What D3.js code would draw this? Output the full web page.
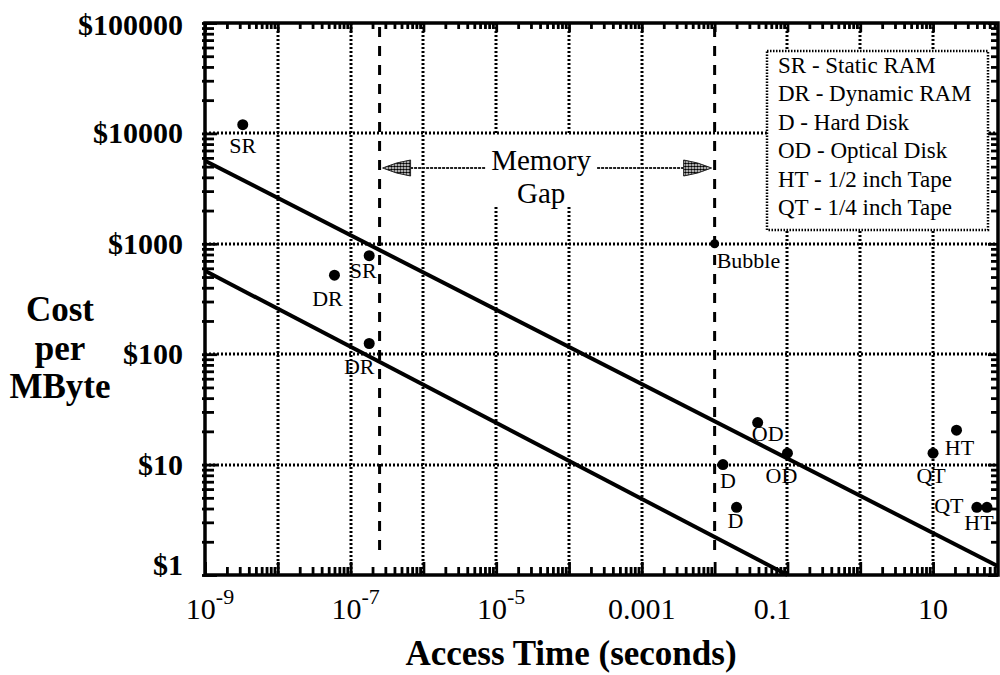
<!DOCTYPE html>
<html>
<head>
<meta charset="utf-8">
<script src="https://cdn.jsdelivr.net/npm/d3@7"></script>
<style>
  body { margin: 0; background: #fff; }
  svg { display: block; font-family: "Liberation Serif", "Times New Roman", serif; }
</style>
</head>
<body>
<svg id="chart" width="1000" height="675"></svg>
<script>
// axis extents (the plot is cut off a little before 100 s on the right)
const timeDomain = [1e-9, 78];
const costDomain = [1, 1e5];

const xTickValues = [1e-9, 1e-7, 1e-5, 1e-3, 1e-1, 10];
const xTickLabels = [["10", "-9"], ["10", "-7"], ["10", "-5"], ["0.001"], ["0.1"], ["10"]];
const yTickValues = [1, 10, 100, 1000, 10000, 100000];
const yTickLabels = ["$1", "$10", "$100", "$1000", "$10000", "$100000"];

// technologies: access time (s) vs cost per MByte ($)
const pointNames = ["SR", "SR", "DR", "DR", "D", "D", "OD", "OD", "QT", "HT", "QT", "HT"];
const pointTimes = [3.3e-9, 1.8e-7, 6e-8, 1.8e-7, 0.013, 0.02, 0.039, 0.1, 10, 21, 40, 55];
const pointCosts = [12000, 780, 520, 125, 10, 4.1, 24, 12.7, 12.7, 20.5, 4.1, 4.1];

const bubbleTimes = [0.01];
const bubbleCosts = [1000];

// the two diagonal reference lines
const trendTimes = [[1e-9, 78], [1e-9, 0.1]];
const trendCosts = [[5650, 1.2], [570, 1]];

// memory gap boundaries
const gapTimes = [2.5e-7, 0.01];

const legendItems = [
    "SR - Static RAM",
    "DR - Dynamic RAM",
    "D - Hard Disk",
    "OD - Optical Disk",
    "HT - 1/2 inch Tape",
    "QT - 1/4 inch Tape"
];

// label placement relative to each point (layout only)
const labelOffsets = [[0, 28], [-6, 22], [-7, 31], [-10, 30], [5, 23], [-1, 21],
                      [10, 18], [-6, 30], [-2, 30], [3, 25], [-28, 6], [-8, 23]];

const svg = d3.select("#chart");
svg.append("rect").attr("width", 1000).attr("height", 675).attr("fill", "#fff");

const x = d3.scaleLog().domain(timeDomain).range([205, 998]);
const y = d3.scaleLog().domain(costDomain).range([575, 23]);
const [x0, x1] = x.range();
const [y0, y1] = y.range();

function logSteps(domain) {
    const out = [];
    const lo = Math.floor(Math.log10(domain[0]));
    const hi = Math.ceil(Math.log10(domain[1]));
    for (let e = lo; e <= hi; e++) {
        for (let m = 1; m < 10; m++) {
            const v = +(m * Math.pow(10, e)).toPrecision(6);
            if (v >= domain[0] * 0.999 && v <= domain[1] * 1.001) out.push({ v, major: m === 1 });
        }
    }
    return out;
}
const xSteps = logSteps(timeDomain);
const ySteps = logSteps(costDomain);

const defs = svg.append("defs");
const stipple = defs.append("pattern")
    .attr("id", "stipple")
    .attr("width", 3).attr("height", 3)
    .attr("patternUnits", "userSpaceOnUse");
stipple.append("rect").attr("width", 3).attr("height", 3).attr("fill", "#fff");
stipple.append("circle").attr("cx", 1.5).attr("cy", 1.5).attr("r", 1.35).attr("fill", "#000");

// dotted grid
const grid = svg.append("g")
    .attr("stroke", "#000").attr("stroke-width", 3)
    .attr("stroke-dasharray", "2,2");
grid.selectAll(".gx")
    .data(xSteps.filter(d => d.major && d.v > timeDomain[0] && !gapTimes.some(g => Math.abs(Math.log10(g) - Math.log10(d.v)) < 0.05)))
    .enter().append("line")
    .attr("x1", d => Math.round(x(d.v))).attr("x2", d => Math.round(x(d.v)))
    .attr("y1", y1).attr("y2", y0);
grid.selectAll(".gy")
    .data(ySteps.filter(d => d.major && d.v > costDomain[0] && d.v < costDomain[1]))
    .enter().append("line")
    .attr("y1", d => Math.round(y(d.v))).attr("y2", d => Math.round(y(d.v)))
    .attr("x1", x0).attr("x2", x1);

// memory gap dashed boundaries
svg.append("g").selectAll("line")
    .data(gapTimes)
    .enter().append("line")
    .attr("x1", d => x(d)).attr("x2", d => x(d))
    .attr("y1", y1 + 4).attr("y2", y0 - 16)
    .attr("stroke", "#000").attr("stroke-width", 3)
    .attr("stroke-dasharray", "10,9");

// memory gap annotation
const gapMid = (x(gapTimes[0]) + x(gapTimes[1])) / 2 - 6;
const arrowY = 168;
svg.append("rect")
    .attr("x", gapMid - 56).attr("y", 135)
    .attr("width", 112).attr("height", 72)
    .attr("fill", "#fff");
const gapText = svg.append("g").attr("font-size", 29).attr("text-anchor", "middle").attr("fill", "#000");
gapText.append("text").attr("x", gapMid).attr("y", 170).text("Memory");
gapText.append("text").attr("x", gapMid).attr("y", 203).text("Gap");

const arrows = [
    { tip: x(gapTimes[0]) + 3, dir: 1, from: gapMid - 56 },
    { tip: x(gapTimes[1]) - 3, dir: -1, from: gapMid + 56 }
];
arrows.forEach(a => {
    const base = a.tip + a.dir * 28;
    svg.append("line")
        .attr("x1", a.from).attr("x2", base)
        .attr("y1", arrowY).attr("y2", arrowY)
        .attr("stroke", "#222").attr("stroke-width", 1.8)
        .attr("stroke-dasharray", "3,1");
    svg.append("path")
        .attr("d", `M${a.tip},${arrowY} Q${a.tip + a.dir * 14},${arrowY - 6} ${base},${arrowY - 8} L${base},${arrowY + 8} Q${a.tip + a.dir * 14},${arrowY + 6} ${a.tip},${arrowY} Z`)
        .attr("fill", "url(#stipple)")
        .attr("stroke", "#222").attr("stroke-width", 1);
});

// diagonal trend lines
const line = d3.line().x(d => x(d[0])).y(d => y(d[1]));
svg.append("g").selectAll("path")
    .data(trendTimes.map((t, i) => t.map((v, j) => [v, trendCosts[i][j]])))
    .enter().append("path")
    .attr("d", line)
    .attr("fill", "none")
    .attr("stroke", "#000").attr("stroke-width", 4);

// data points and their labels
const points = pointNames.map((name, i) => ({ name, t: pointTimes[i], c: pointCosts[i], off: labelOffsets[i] }));
const pts = svg.append("g");
pts.selectAll("circle")
    .data(points)
    .enter().append("circle")
    .attr("cx", d => x(d.t)).attr("cy", d => y(d.c))
    .attr("r", 5.5).attr("fill", "#000");
pts.selectAll("text")
    .data(points)
    .enter().append("text")
    .attr("x", d => x(d.t) + d.off[0])
    .attr("y", d => y(d.c) + d.off[1])
    .attr("text-anchor", "middle")
    .attr("font-size", 22)
    .text(d => d.name);

bubbleTimes.forEach((t, i) => {
    svg.append("circle")
        .attr("cx", x(t)).attr("cy", y(bubbleCosts[i]))
        .attr("r", 4.5).attr("fill", "#000");
    svg.append("text")
        .attr("x", x(t) + 2).attr("y", y(bubbleCosts[i]) + 24)
        .attr("font-size", 22)
        .text("Bubble");
});

// legend
const legend = svg.append("g").attr("transform", "translate(767,51)");
legend.append("rect")
    .attr("width", 221).attr("height", 179)
    .attr("fill", "#fff")
    .attr("stroke", "#000").attr("stroke-width", 2.5)
    .attr("stroke-dasharray", "1.5,1.5");
legend.selectAll("text")
    .data(legendItems)
    .enter().append("text")
    .attr("x", 11)
    .attr("y", (d, i) => 22 + i * 28.4)
    .attr("font-size", 23)
    .text(d => d);

// frame
svg.append("rect")
    .attr("x", x0).attr("y", y1)
    .attr("width", x1 - x0).attr("height", y0 - y1)
    .attr("fill", "none")
    .attr("stroke", "#000").attr("stroke-width", 3.5);

// inside ticks on all four sides
function tickSet(axisFn, scale, steps, size, transform) {
    const g = svg.append("g").attr("transform", transform);
    g.call(axisFn(scale).tickValues(steps.map(d => d.v)).tickFormat("").tickSizeOuter(0)
        .tickSize(0));
    g.select(".domain").remove();
    g.selectAll(".tick line")
        .attr("stroke", "#000").attr("stroke-width", 2.8)
        .each(function(d) {
            const major = steps.find(s => s.v === d).major;
            const len = major ? size[1] : size[0];
            const el = d3.select(this);
            if (axisFn === d3.axisBottom) el.attr("y2", -len);
            if (axisFn === d3.axisTop) el.attr("y2", len);
            if (axisFn === d3.axisLeft) el.attr("x1", -3).attr("x2", len);
            if (axisFn === d3.axisRight) el.attr("x2", -len);
        });
}
tickSet(d3.axisBottom, x, xSteps, [8, 13], `translate(0,${y0})`);
tickSet(d3.axisTop, x, xSteps, [6, 9], `translate(0,${y1})`);
tickSet(d3.axisLeft, y, ySteps, [9, 12], `translate(${x0},0)`);
tickSet(d3.axisRight, y, ySteps, [7, 10], `translate(${x1},0)`);

// x tick labels
const xLabelShift = [5, 5, 5, 0, -15, 0];
const xl = svg.append("g").attr("font-size", 30).attr("text-anchor", "middle");
xTickValues.forEach((v, i) => {
    const t = xl.append("text")
        .attr("x", x(v) + xLabelShift[i])
        .attr("y", 619);
    t.append("tspan").text(xTickLabels[i][0]);
    if (xTickLabels[i][1]) {
        t.append("tspan").attr("dy", -15).attr("font-size", 22).text(xTickLabels[i][1]);
    }
});

// y tick labels
const yl = svg.append("g").attr("font-size", 30).attr("font-weight", "bold").attr("text-anchor", "end");
yl.selectAll("text")
    .data(yTickValues)
    .enter().append("text")
    .attr("x", x0 - 22)
    .attr("y", (d, i) => y(d) + 10 + (i === 0 ? -10 : 0) + (i === yTickValues.length - 1 ? 2 : 0))
    .text((d, i) => yTickLabels[i]);

// axis titles
svg.append("text")
    .attr("x", 571).attr("y", 665)
    .attr("text-anchor", "middle")
    .attr("font-size", 35).attr("font-weight", "bold")
    .text("Access Time (seconds)");

const yTitle = svg.append("g").attr("font-size", 35).attr("font-weight", "bold").attr("text-anchor", "middle");
[["Cost", 321], ["per", 360], ["MByte", 398]].forEach(([s, yy]) => {
    yTitle.append("text").attr("x", 60).attr("y", yy).text(s);
});
</script>
</body>
</html>
